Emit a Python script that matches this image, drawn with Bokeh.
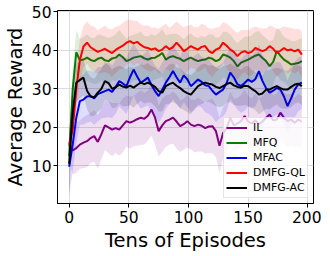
from bokeh.plotting import figure
from bokeh.models import Range1d, FixedTicker, Legend, LegendItem
from bokeh.embed import file_html
from bokeh.resources import INLINE

episodes = list(range(0, 196, 3))

il = [15.5, 14.0, 14.6, 15.5, 16.0, 16.4, 17.2, 17.7, 16.2, 18.2, 20.5,
      20.0, 19.4, 19.8, 19.4, 20.5, 21.6, 21.2, 21.6, 22.1, 22.5, 22.2,
      23.0, 24.6, 22.5, 19.0, 20.5, 21.6, 22.0, 22.5, 21.5, 20.3, 20.8,
      21.6, 20.7, 20.3, 20.7, 20.4, 19.8, 20.2, 20.3, 19.0, 15.2, 18.5,
      19.8, 22.5, 20.5, 21.0, 21.6, 22.9, 21.5, 21.0, 21.8, 20.8, 21.5,
      22.5, 23.3, 21.8, 22.0, 23.8, 22.5, 21.6, 22.0, 21.2, 22.0, 21.5]
mfq = [12.5, 30.0, 39.5, 37.4, 37.6, 38.1, 37.5, 37.2, 37.8, 38.1, 37.4,
       37.2, 37.9, 38.1, 38.9, 38.2, 37.2, 37.6, 38.1, 38.3, 38.5, 37.9,
       37.6, 38.0, 38.1, 38.6, 39.3, 37.6, 38.2, 38.5, 38.1, 37.8, 37.2,
       37.7, 38.1, 37.6, 37.2, 37.5, 37.6, 38.1, 37.8, 37.2, 37.6, 38.9,
       38.6, 38.1, 37.2, 35.8, 36.8, 37.2, 37.6, 38.1, 38.6, 38.9, 38.0,
       37.2, 35.9, 37.0, 39.8, 38.6, 37.6, 37.0, 36.3, 36.5, 36.7, 37.2]
mfac = [9.8, 15.5, 22.5, 26.8, 27.2, 28.0, 28.1, 27.5, 28.6, 29.0, 29.4,
        29.8, 29.2, 30.5, 32.0, 31.4, 30.7, 33.0, 35.0, 33.2, 31.6, 32.2,
        32.9, 31.0, 29.4, 28.1, 29.8, 31.6, 33.0, 34.6, 33.0, 31.6, 33.5,
        32.5, 30.7, 31.5, 32.4, 31.8, 30.9, 30.7, 29.5, 28.5, 29.2, 29.8,
        31.5, 34.2, 33.0, 31.2, 30.7, 31.5, 32.4, 31.8, 32.5, 34.6, 32.0,
        30.2, 29.0, 29.5, 30.2, 29.8, 28.0, 25.5, 27.5, 29.8, 31.2, 31.6]
dmfg_ql = [15.5, 19.5, 30.0, 37.5, 41.0, 42.0, 40.8, 40.2, 39.6, 40.0, 40.4,
           39.8, 39.3, 40.1, 40.7, 41.2, 42.0, 42.4, 41.8, 42.2, 41.4, 40.8,
           40.6, 40.2, 40.5, 39.8, 40.2, 41.1, 40.3, 40.8, 42.0, 41.0, 39.8,
           40.4, 41.1, 40.6, 40.2, 40.9, 41.1, 39.8, 39.3, 40.2, 40.6, 42.0,
           41.2, 40.2, 39.6, 38.5, 39.4, 39.8, 39.3, 39.6, 40.6, 40.2, 39.8,
           40.2, 41.1, 40.4, 39.3, 39.9, 40.6, 40.0, 40.2, 39.7, 40.2, 38.9]
dmfg_ac = [10.5, 24.0, 31.6, 32.3, 32.9, 29.5, 28.0, 27.8, 29.0, 30.0, 32.0,
           31.5, 30.0, 30.4, 31.1, 30.6, 30.3, 30.8, 30.3, 31.0, 31.6, 31.2,
           31.6, 31.1, 30.5, 29.4, 29.0, 30.7, 31.2, 31.6, 30.8, 30.2, 29.4,
           28.9, 28.5, 29.6, 30.7, 31.2, 31.6, 31.3, 31.1, 30.5, 30.2, 30.7,
           31.2, 31.6, 30.9, 30.5, 30.3, 30.8, 30.7, 30.0, 29.4, 28.5, 28.8,
           29.8, 29.8, 30.3, 30.7, 30.2, 29.8, 29.8, 30.5, 31.1, 31.3, 30.7]

il_std = [4.5, 6.2, 6.5, 6.3, 6.6, 6.8, 6.5, 6.7, 6.9, 6.6, 6.4,
          6.7, 6.9, 6.5, 6.8, 7.0, 6.6, 6.8, 6.5, 6.9, 7.1, 6.7,
          6.5, 6.8, 7.0, 6.6, 6.9, 6.7, 6.5, 6.8, 7.0, 6.7, 6.6,
          6.9, 6.5, 6.8, 7.0, 6.7, 6.6, 6.9, 7.1, 6.8, 7.3, 6.7,
          6.5, 6.8, 6.9, 6.6, 6.8, 7.0, 6.7, 6.5, 6.9, 6.8, 6.6,
          6.9, 6.7, 6.5, 6.8, 7.0, 6.6, 6.9, 6.7, 6.5, 6.8, 6.6]
mfq_std = [2.5, 5.0, 5.8, 5.5, 5.9, 6.1, 5.8, 6.0, 6.3, 5.9, 6.2,
           6.0, 5.7, 6.1, 6.4, 6.0, 5.8, 6.2, 5.9, 6.1, 6.3, 5.8,
           6.0, 6.2, 5.7, 5.9, 6.1, 6.3, 6.0, 5.8, 6.2, 5.9, 5.7,
           6.1, 6.3, 5.9, 6.0, 6.2, 5.8, 6.0, 6.4, 6.1, 5.8, 5.9,
           6.2, 6.0, 5.7, 6.1, 5.9, 6.3, 6.0, 5.8, 6.2, 6.1, 5.9,
           6.0, 6.3, 5.8, 6.1, 6.4, 5.9, 6.0, 6.2, 5.8, 6.1, 6.0]
mfac_std = [7.5, 7.0, 6.5, 6.2, 6.5, 6.8, 6.6, 6.9, 7.1, 6.7, 6.9,
            7.2, 6.8, 7.0, 6.6, 6.9, 7.3, 7.0, 6.8, 7.1, 6.7, 6.9,
            7.2, 7.0, 6.6, 6.9, 7.1, 6.8, 7.0, 7.3, 6.9, 6.7, 7.0,
            7.2, 6.8, 7.1, 6.9, 6.6, 7.0, 7.2, 6.8, 7.1, 6.9, 7.0,
            7.3, 6.8, 7.0, 6.7, 6.9, 7.2, 7.0, 6.8, 7.1, 6.9, 6.7,
            7.0, 7.2, 6.9, 6.8, 7.1, 7.0, 6.6, 6.9, 7.2, 7.0, 6.8]
dmfg_ql_std = [3.5, 4.5, 5.2, 5.5, 5.3, 5.5, 5.7, 5.9, 5.6, 5.8, 6.0,
               5.8, 6.2, 6.0, 5.7, 5.9, 5.8, 5.6, 5.9, 5.5, 5.3, 5.6,
               5.9, 5.7, 5.4, 5.8, 6.1, 5.9, 5.6, 5.8, 5.5, 5.7, 6.2,
               5.9, 5.6, 5.4, 5.8, 6.0, 5.5, 5.9, 6.3, 5.7, 5.5, 5.3,
               5.8, 6.0, 5.7, 6.1, 5.8, 5.5, 5.9, 6.2, 5.6, 5.7, 5.9,
               5.5, 5.3, 5.8, 6.2, 5.9, 5.6, 6.0, 5.7, 5.8, 5.5, 6.0]
dmfg_ac_std = [7.5, 6.5, 5.0, 4.8, 4.6, 4.9, 5.1, 4.8, 5.0, 5.2, 4.9,
               4.7, 5.0, 5.3, 4.9, 5.1, 4.8, 5.0, 5.2, 4.9, 4.7, 5.0,
               5.1, 4.8, 5.0, 5.3, 4.9, 4.7, 5.1, 5.0, 4.8, 5.2, 4.9,
               5.0, 5.1, 4.8, 4.9, 5.2, 5.0, 4.7, 5.0, 5.1, 4.9, 5.2,
               4.8, 5.0, 5.1, 4.9, 4.7, 5.0, 5.2, 4.9, 5.0, 5.1, 4.8,
               5.0, 5.2, 4.9, 4.8, 5.1, 5.0, 4.9, 5.2, 5.0, 4.8, 5.0]

labels = ["IL", "MFQ", "MFAC", "DMFG-QL", "DMFG-AC"]
colors = ["#800080", "#008000", "#0000ff", "#ff0000", "#000000"]
x_ticks = [0, 50, 100, 150, 200]
y_ticks = [10, 20, 30, 40, 50]

FONT = "DejaVu Sans"

p = figure(frame_width=256, frame_height=193,
           min_border_left=48, min_border_right=8, min_border_top=10, min_border_bottom=44,
           output_backend="svg", toolbar_location=None,
           x_range=Range1d(-9.75, 204.75), y_range=Range1d(0.2, 50.35))

p.outline_line_color = "black"
p.outline_line_width = 1
p.background_fill_color = "white"
p.border_fill_color = "white"

for ax in (p.xaxis[0], p.yaxis[0]):
    ax.major_label_text_font = FONT
    ax.major_label_text_font_size = "15.5px"
    ax.major_label_text_color = "black"
    ax.axis_label_text_font = FONT
    ax.axis_label_text_font_size = "19.5px"
    ax.axis_label_text_font_style = "normal"
    ax.axis_label_text_color = "black"
    ax.major_tick_out = 4
    ax.major_tick_in = 0
    ax.minor_tick_out = 0
    ax.minor_tick_in = 0
    ax.axis_line_color = "black"
    ax.major_tick_line_color = "black"

p.xaxis.major_label_standoff = 3
p.xaxis.axis_label_standoff = 3
p.yaxis.major_label_standoff = 2
p.yaxis.axis_label_standoff = 2

p.xaxis.ticker = FixedTicker(ticks=x_ticks)
p.yaxis.ticker = FixedTicker(ticks=y_ticks)
p.xaxis.axis_label = "Tens of Episodes"
p.yaxis.axis_label = "Average Reward"
p.xgrid.ticker = FixedTicker(ticks=x_ticks)
p.ygrid.ticker = FixedTicker(ticks=y_ticks)
p.grid.grid_line_color = "#dcdcdc"
p.grid.grid_line_width = 1

series = [il, mfq, mfac, dmfg_ql, dmfg_ac]
stds = [il_std, mfq_std, mfac_std, dmfg_ql_std, dmfg_ac_std]

items = []
for lab, col, m, s in zip(labels, colors, series, stds):
    lo = [a - b for a, b in zip(m, s)]
    hi = [a + b for a, b in zip(m, s)]
    p.varea(x=episodes, y1=lo, y2=hi, fill_color=col, fill_alpha=0.13)
    r = p.line(x=episodes, y=m, line_color=col, line_width=2)
    items.append(LegendItem(label=lab, renderers=[r]))

legend = Legend(items=items, location="bottom_right")
legend.label_text_font = FONT
legend.label_text_font_size = "11px"
legend.label_text_color = "black"
legend.label_height = 15
legend.glyph_height = 15
legend.glyph_width = 21
legend.label_standoff = 6
legend.spacing = 0
legend.padding = 2
legend.margin = 5
legend.background_fill_alpha = 0.8
legend.border_line_color = "#cccccc"
legend.border_line_width = 1
p.add_layout(legend)

open("out.html", "w").write(file_html(p, INLINE))
